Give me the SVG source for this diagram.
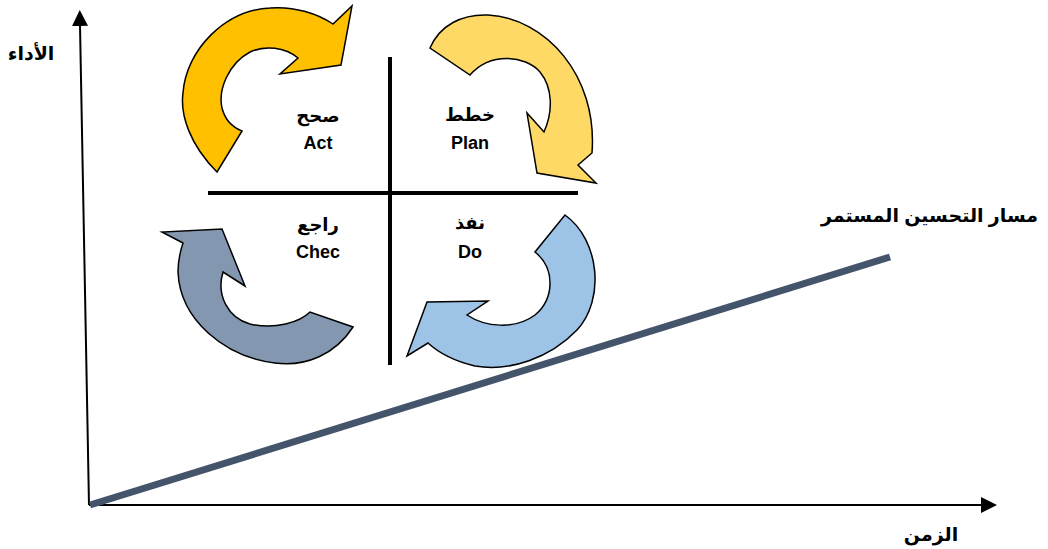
<svg xmlns="http://www.w3.org/2000/svg" width="1048" height="549" viewBox="0 0 1048 549">
  <style>
    .axis { stroke: #000; stroke-width: 2; fill: none; }
    .cross { stroke: #000; stroke-width: 4; fill: none; }
    .cycle { stroke: #000; stroke-width: 1.5; stroke-linejoin: miter; }
    .trend { stroke: #44546A; stroke-width: 7; fill: none; }
    .lbl { font-family: "Liberation Sans", "DejaVu Sans", sans-serif; font-weight: bold; fill: #000; text-anchor: middle; }
    .step { font-size: 18px; }
    .axisLbl { font-size: 19px; }
  </style>
  <defs>
    <marker id="axisHead" markerUnits="userSpaceOnUse" markerWidth="16" markerHeight="16" viewBox="0 0 16 16" refX="1" refY="8" orient="auto">
      <path d="M0,0 L16,8 L0,16 Z" fill="#000"/>
    </marker>
  </defs>

  <!-- axes -->
  <g id="axes">
    <line class="axis" x1="89" y1="505" x2="80" y2="25" marker-end="url(#axisHead)"/>
    <line class="axis" x1="89" y1="505" x2="982" y2="505" marker-end="url(#axisHead)"/>
  </g>

  <!-- quadrant divider -->
  <g id="quadrants">
    <line class="cross" x1="208" y1="193" x2="578" y2="193"/>
    <line class="cross" x1="390" y1="57" x2="390" y2="365"/>
  </g>

  <!-- Act -->
  <g id="act">
    <path class="cycle" fill="#FFC000" d="M217,172 C190,145 180,115 183,93 C186,50 225,10 270,8 C295,6 318,14 333,24 L352,6 L341,65 L280,74 L298,58 C285,47 265,45 250,52 C228,64 218,90 222,108 C225,120 232,127 242,131 Z"/>
    <text class="lbl step" x="318" y="122">صحح</text>
    <text class="lbl step" x="318" y="149">Act</text>
  </g>

  <!-- Plan -->
  <g id="plan">
    <path class="cycle" fill="#FFD966" d="M430,48 C440,25 462,14 488,15 C545,18 598,75 592,153 L578,165 L596,183 L537,173 L527,113 L544,132 C553,112 553,88 540,72 C525,55 490,52 470,75 Z"/>
    <text class="lbl step" x="470" y="121">خطط</text>
    <text class="lbl step" x="470" y="149">Plan</text>
  </g>

  <!-- Check -->
  <g id="check">
    <path class="cycle" fill="#8497B0" d="M183,243 L162,232 L222,229 L245,286 L223,272 C216,295 228,318 250,324 C275,330 300,322 310,312 L353,327 C335,355 305,367 275,363 C225,357 180,320 178,272 C178,262 180,252 183,243 Z"/>
    <text class="lbl step" x="318" y="231">راجع</text>
    <text class="lbl step" x="318" y="258">Chec</text>
  </g>

  <!-- Do -->
  <g id="do">
    <path class="cycle" fill="#9DC3E6" d="M565,215 C600,240 605,300 577,330 C550,358 510,372 475,366 C458,362 440,354 428,343 L407,356 L427,302 L488,301 L467,315 C485,327 515,330 535,315 C555,298 555,268 535,252 Z"/>
    <text class="lbl step" x="470" y="229">نفذ</text>
    <text class="lbl step" x="470" y="258">Do</text>
  </g>

  <!-- continuous improvement path -->
  <g id="connectors">
    <line class="trend" x1="90" y1="505" x2="890" y2="257"/>
  </g>

  <g id="labels">
    <text class="lbl axisLbl" x="31" y="60">الأداء</text>
    <text class="lbl axisLbl" x="931" y="541">الزمن</text>
    <text class="lbl axisLbl" x="1038" y="222" style="text-anchor:end">مسار التحسين المستمر</text>
  </g>
</svg>
